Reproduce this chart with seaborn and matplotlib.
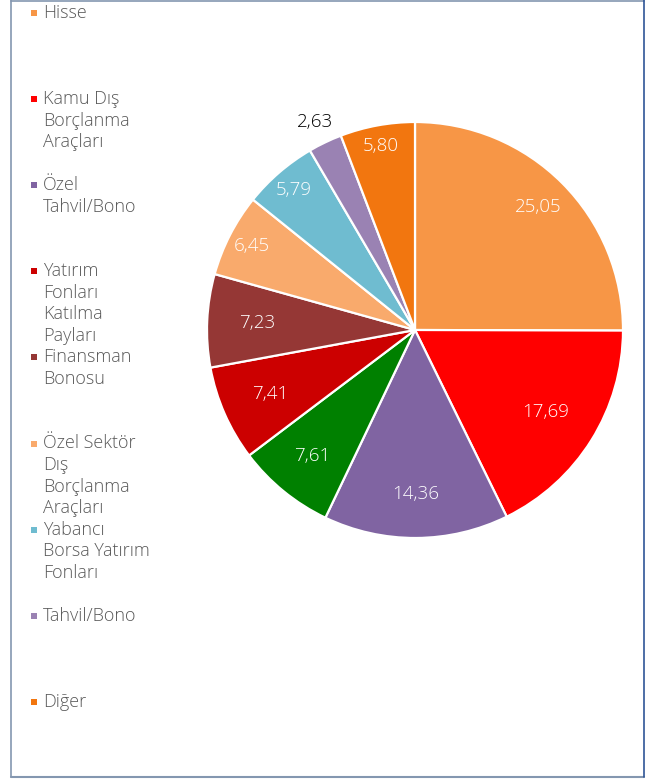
import matplotlib.pyplot as plt
import numpy as np
import seaborn as sns
from matplotlib.lines import Line2D

# slices, clockwise from 12 o'clock
categories = [
    "Hisse",
    "Kamu Dış Borçlanma Araçları",
    "Özel Tahvil/Bono",
    "",  # green slice, not listed in the legend
    "Yatırım Fonları Katılma Payları",
    "Finansman Bonosu",
    "Özel Sektör Dış Borçlanma Araçları",
    "Yabancı Borsa Yatırım Fonları",
    "Tahvil/Bono",
    "Diğer",
]
shares = [25.05, 17.69, 14.36, 7.61, 7.41, 7.23, 6.45, 5.79, 2.63, 5.80]
legend_labels = [
    "Hisse",
    "Kamu Dış\nBorçlanma\nAraçları",
    "Özel\nTahvil/Bono",
    None,
    "Yatırım\nFonları\nKatılma\nPayları",
    "Finansman\nBonosu",
    "Özel Sektör\nDış\nBorçlanma\nAraçları",
    "Yabancı\nBorsa Yatırım\nFonları",
    "Tahvil/Bono",
    "Diğer",
]

colors = ["#F79646", "#FF0000", "#8064A2", "#008000", "#CC0000",
          "#953735", "#F9AA6C", "#6FBCD0", "#9A82B3", "#F2760F"]
label_dist = [0.84, 0.74, 0.79, 0.78, 0.76, 0.76, 0.88, 0.89, 1.11, 0.90]

sns.set_theme(style="white")
plt.rcParams["font.family"] = ["Open Sans", "DejaVu Sans"]

fig = plt.figure(figsize=(6.54, 7.80), dpi=100)

# legend drawn in pixel coordinates on a full-figure axes
ax_leg = fig.add_axes([0, 0, 1, 1])
ax_leg.set_xlim(0, 654)
ax_leg.set_ylim(780, 0)
ax_leg.axis("off")

y0, step, line_h = 13, 86.1, 21.5
slot = 0
for lab, col in zip(legend_labels, colors):
    if lab is None:
        continue
    y = y0 + slot * step
    ax_leg.scatter([33.5], [y], marker="s", s=24, color=col, linewidths=0)
    for i, line in enumerate(lab.split("\n")):
        ax_leg.text(43, y + i * line_h, line, va="center", ha="left",
                    fontsize=13, color="#595959", fontweight="light")
    slot += 1

# pie
ax = fig.add_axes([207 / 654, 242 / 780, 416 / 654, 416 / 780])
wedges, _ = ax.pie(
    shares,
    colors=colors,
    startangle=90,
    counterclock=False,
    radius=1,
    wedgeprops={"edgecolor": "white", "linewidth": 1.6},
)
ax.set_xlim(-1, 1)
ax.set_ylim(-1, 1)
ax.set_aspect("equal")
ax.axis("off")

total = sum(shares)
start = 90.0
for v, d in zip(shares, label_dist):
    sweep = v / total * 360
    mid = np.deg2rad(start - sweep / 2)
    start -= sweep
    txt_col = "black" if d > 1 else "white"
    ax.text(d * np.cos(mid), d * np.sin(mid), f"{v:.2f}".replace(".", ","),
            ha="center", va="center", fontsize=13.5, color=txt_col,
            fontweight="light")

# frame around the chart area
frame = "#8497B0"
fig.add_artist(Line2D([11 / 654, 11 / 654], [3 / 780, 1], color=frame, lw=1.2))
fig.add_artist(Line2D([11 / 654, 644 / 654], [3 / 780, 3 / 780], color=frame, lw=1.5))
fig.add_artist(Line2D([11 / 654, 644 / 654], [0.999, 0.999], color=frame, lw=1.2))
fig.add_artist(Line2D([644 / 654, 644 / 654], [3 / 780, 1], color="#2F5597", lw=1.2))

fig.savefig("out.png", dpi=100)
